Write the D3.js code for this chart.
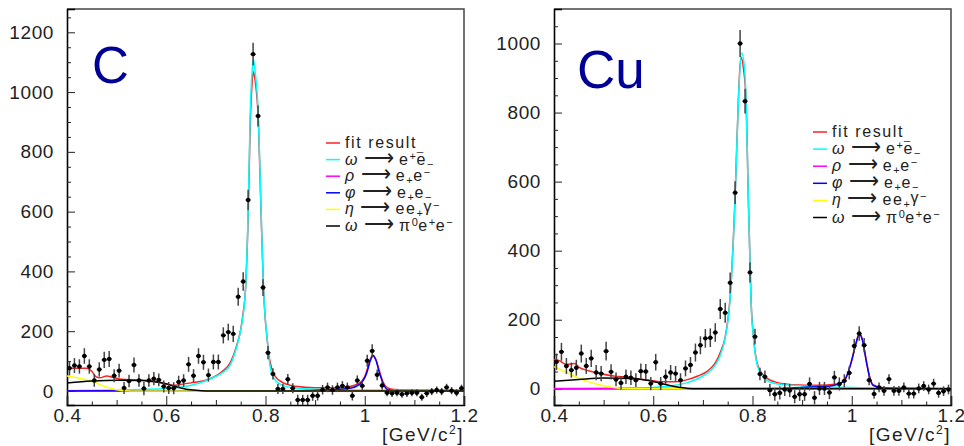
<!DOCTYPE html>
<html>
<head>
<meta charset="utf-8">
<script src="https://cdn.jsdelivr.net/npm/d3@7"></script>
<style>
  body { margin: 0; background: #fff; }
  text { font-family: "Liberation Sans", Arial, sans-serif; }
</style>
</head>
<body>
<svg id="chart" width="964" height="446"></svg>
<script>
// histogram binning: 80 bins of 10 MeV between 0.4 and 1.2 GeV/c^2
const binCenters = d3.range(80).map((i) => +(0.405 + i * 0.01).toFixed(3));

// carbon target, counts per bin and their errors
const countsC = [
  76, 85, 82, 117, 82, 35, 72, 104, 107, 51,
  68, 10, 33, 87, 35, 8, 35, 41, 37, 15,
  10, 9, 30, 35, 89, 51, 117, 96, 53, 97,
  97, 186, 197, 191, 315, 366, 639, 1127, 920, 346,
  128, 57, 7, 7, 39, 9, -30, -30, -30, -16,
  -16, 4, 12, 3, 12, 17, 12, -16, 35, 17,
  101, 134, 54, 18, -6, -8, -6, -11, -8, -6,
  -6, -21, -8, -2, 3, -2, 12, 1, -6, 9,
];
const errorsC = [
  24, 25, 24, 26, 24, 21, 24, 27, 27, 22,
  23, 20, 21, 25, 21, 22, 21, 22, 21, 20,
  20, 20, 21, 21, 25, 22, 26, 25, 22, 25,
  25, 27, 28, 27, 30, 31, 34, 38, 35, 28,
  22, 19, 17, 17, 18, 17, 17, 17, 17, 17,
  16, 16, 16, 16, 16, 16, 16, 16, 17, 16,
  20, 22, 18, 14, 12, 12, 12, 12, 12, 12,
  12, 12, 12, 12, 12, 12, 12, 12, 12, 12,
];

// copper target
const countsCu = [
  78, 107, 66, 54, 61, 102, 66, 88, 47, 44,
  109, 49, 27, 17, 35, 32, 25, 51, 50, 15,
  77, 15, 35, 47, 44, 25, 59, 69, 105, 126,
  146, 148, 163, 231, 220, 307, 568, 1000, 833, 337,
  151, 43, 35, -4, -16, -12, -2, -5, -23, -16,
  -16, 14, -26, 1, 1, -11, 33, 14, 23, 46,
  124, 160, 126, 25, -15, 4, -6, 28, -6, -6,
  4, -14, -14, 1, 8, -2, 15, -12, -7, -2,
];
const errorsCu = [
  24, 26, 23, 22, 23, 26, 23, 25, 22, 22,
  27, 22, 20, 19, 21, 21, 20, 22, 22, 19,
  24, 19, 21, 22, 22, 20, 23, 23, 26, 26,
  27, 27, 27, 29, 29, 30, 33, 39, 36, 29,
  23, 18, 18, 18, 19, 19, 19, 19, 19, 19,
  19, 19, 19, 19, 19, 19, 19, 19, 19, 19,
  20, 21, 21, 15, 14, 14, 14, 14, 14, 14,
  14, 14, 14, 14, 14, 14, 14, 14, 14, 14,
];

// fit components, [mass, counts]
const fitC = [[0.400,76],[0.440,76],[0.450,66],[0.458,48],[0.466,44],[0.480,50],[0.494,45],[0.510,39],[0.540,37],[0.573,33],[0.590,28],[0.601,22],[0.615,19],[0.630,22],[0.650,27],[0.680,36],[0.700,50],[0.715,68],[0.729,95],[0.742,152],[0.750,205],[0.754,250],[0.760,350],[0.7656,620],[0.769,880],[0.773,1030],[0.7757,1068],[0.779,1040],[0.7857,900],[0.7905,630],[0.7958,350],[0.7992,248],[0.803,180],[0.806,130],[0.812,78],[0.820,48],[0.835,28],[0.860,16],[0.900,11],[0.940,11],[0.970,15],[0.990,27],[1.000,48],[1.006,78],[1.011,105],[1.0163,120],[1.022,107],[1.0297,66],[1.037,30],[1.0445,12],[1.060,5],[1.100,3],[1.200,2]];
const omegaC = [[0.400,1],[0.500,3],[0.550,5],[0.600,8],[0.648,18],[0.680,34],[0.695,45],[0.714,62],[0.729,87],[0.742,148],[0.749,195],[0.7535,237],[0.760,349],[0.7656,639],[0.769,917],[0.773,1070],[0.7757,1109],[0.779,1070],[0.7857,917],[0.7905,639],[0.7958,349],[0.7992,250],[0.803,180],[0.806,128],[0.809,85],[0.816,45],[0.825,28],[0.836,18],[0.860,10],[0.900,6],[1.000,3],[1.200,1]];
const rhoC = [[0.400,1],[0.600,1],[0.800,1],[1.000,0.5],[1.200,0]];
const phiC = [[0.400,0],[0.850,1],[0.930,4],[0.970,9],[0.990,22],[1.004,60],[1.011,100],[1.0163,118],[1.022,105],[1.0297,60],[1.037,25],[1.0445,6],[1.060,1],[1.200,0]];
const etaC = [[0.400,50],[0.426,42],[0.453,31],[0.473,17],[0.490,8],[0.503,3],[0.515,0.5],[0.530,0],[1.200,0]];
const dalitzC = [[0.400,27],[0.450,33],[0.500,36],[0.550,35],[0.580,30],[0.600,24],[0.620,14],[0.640,6],[0.660,2],[0.680,0],[1.200,0]];

const fitCu = [[0.400,85],[0.410,82],[0.425,71],[0.435,72],[0.442,73],[0.450,63],[0.470,52],[0.490,45],[0.520,37],[0.550,33],[0.580,27],[0.600,23],[0.620,20],[0.645,20],[0.665,25],[0.690,37],[0.710,52],[0.725,75],[0.735,105],[0.745,150],[0.7547,262],[0.7648,550],[0.7716,840],[0.7765,961],[0.782,925],[0.787,836],[0.7917,546],[0.7955,340],[0.797,262],[0.8018,155],[0.8105,68],[0.822,40],[0.845,20],[0.880,12],[0.930,10],[0.970,14],[0.985,22],[0.9993,80],[1.008,130],[1.0154,160],[1.022,140],[1.0295,80],[1.036,36],[1.0428,12],[1.060,4],[1.100,2],[1.200,1]];
const omegaCu = [[0.400,0],[0.550,2],[0.600,4],[0.633,8],[0.667,17],[0.700,37],[0.720,59],[0.734,93],[0.744,141],[0.7507,199],[0.7547,257],[0.7648,546],[0.7716,836],[0.778,973],[0.7835,935],[0.787,836],[0.7917,546],[0.7955,337],[0.797,257],[0.8018,151],[0.8105,64],[0.822,35],[0.8453,15],[0.900,8],[1.000,4],[1.200,1]];
const rhoCu = [[0.400,1],[0.600,1],[0.800,1],[1.200,0]];
const phiCu = [[0.400,0],[0.850,1],[0.900,4],[0.960,9],[0.9824,20],[0.9993,78],[1.008,128],[1.0154,158],[1.022,138],[1.0295,78],[1.036,33],[1.0428,10],[1.060,3],[1.100,1],[1.200,0]];
const etaCu = [[0.400,64],[0.427,46],[0.460,25],[0.493,11],[0.520,4],[0.540,0.5],[0.560,0],[1.200,0]];
const dalitzCu = [[0.400,22],[0.450,27],[0.500,31],[0.553,30],[0.587,25],[0.620,14],[0.654,4],[0.670,1],[0.690,0],[1.200,0]];

// legend entries: [text, position] pieces
const legendEntries = [
  { key: "fit", color: "#ff2020", parts: [["fit result"], ["_", "sub"]] },
  { key: "omega", color: "#00ffff", parts: [["ω", "it"], ["⟶", "arrow"], ["e"], ["+", "sup"], ["e"], ["−", "sub"]] },
  { key: "rho", color: "#ff00ff", parts: [["ρ", "it"], ["⟶", "arrow"], ["e"], ["+", "sub"], ["e"], ["−", "sup"]] },
  { key: "phi", color: "#0000ff", parts: [["φ", "it"], ["⟶", "arrow"], ["e"], ["+", "sub"], ["e"], ["−", "sub"]] },
  { key: "eta", color: "#ffff00", parts: [["η", "it"], ["⟶", "arrow"], ["e"], ["e"], ["+", "sub"], ["γ", "up"], ["−", "sup"]] },
  { key: "dalitz", color: "#000000", parts: [["ω", "it"], ["⟶", "arrow"], ["π"], ["0", "sup"], ["e"], ["+", "sup"], ["e"], ["−", "sup"]] },
];

const panels = [
  {
    label: "C", x0: 67, x1: 464, yDomain: [-47, 1278],
    counts: countsC, errors: errorsC,
    curves: { fit: fitC, omega: omegaC, rho: rhoC, phi: phiC, eta: etaC, dalitz: dalitzC },
    drawOrder: ["fit", "omega", "rho", "phi", "eta", "dalitz"],
    labelX: 92, labelY: 83, labelSize: 51,
    legendX: 326, legendY: 143, legendStep: 16.6,
  },
  {
    label: "Cu", x0: 554, x1: 951, yDomain: [-47, 1100],
    counts: countsCu, errors: errorsCu,
    curves: { fit: fitCu, omega: omegaCu, rho: rhoCu, phi: phiCu, eta: etaCu, dalitz: dalitzCu },
    drawOrder: ["fit", "omega", "phi", "rho", "eta", "dalitz"],
    labelX: 577, labelY: 88, labelSize: 53,
    legendX: 813, legendY: 132, legendStep: 17.1,
  },
];

const plotTop = 9, plotBottom = 405;
const svg = d3.select("#chart");
svg.append("rect").attr("width", 964).attr("height", 446).attr("fill", "#fff");

function richText(sel, parts) {
  let shift = 0;
  parts.forEach(([txt, pos]) => {
    const target = pos === "sup" ? -5 : pos === "sub" ? 3 : pos === "up" ? -2 : 0;
    const ts = sel.append("tspan")
      .attr("dy", target - shift)
      .text(txt);
    if (pos === "sup" || pos === "sub") ts.attr("font-size", 11).attr("letter-spacing", 0.5);
    if (pos === "it") ts.attr("font-style", "italic");
    if (pos === "arrow") ts.attr("font-size", 21).attr("dx", 5).attr("letter-spacing", 5);
    shift = target;
  });
}

panels.forEach((p, pi) => {
  const x = d3.scaleLinear().domain([0.4, 1.2]).range([p.x0, p.x1]);
  const y = d3.scaleLinear().domain(p.yDomain).range([plotBottom, plotTop]);
  const g = svg.append("g");

  const clipId = "clip" + pi;
  g.append("clipPath").attr("id", clipId)
    .append("rect")
    .attr("x", p.x0).attr("y", plotTop)
    .attr("width", p.x1 - p.x0).attr("height", plotBottom - plotTop);

  // frame: top/right grey, axes black
  g.append("path")
    .attr("d", `M${p.x0},${plotTop}H${p.x1}V${plotBottom}`)
    .attr("fill", "none").attr("stroke", "#444").attr("stroke-width", 1.5);

  // y axis, ticks pointing inwards
  const yMajor = d3.range(0, p.yDomain[1], 200);
  const yMinor = d3.range(0, p.yDomain[1], 50).filter((v) => v % 200 !== 0);
  const yAx = g.append("g").attr("transform", `translate(${p.x0},0)`)
    .call(d3.axisLeft(y).tickValues(yMajor).tickSize(-8).tickPadding(13).tickFormat(d3.format("d")));
  g.append("g").attr("transform", `translate(${p.x0},0)`)
    .call(d3.axisLeft(y).tickValues(yMinor).tickSize(-4).tickFormat(""))
    .call((s) => s.select(".domain").remove());

  // x axis
  const xMajor = [0.4, 0.6, 0.8, 1.0, 1.2];
  const xMid = [0.5, 0.7, 0.9, 1.1];
  const xMinor = d3.range(0.45, 1.2, 0.1);
  const xAx = g.append("g").attr("transform", `translate(0,${plotBottom})`)
    .call(d3.axisBottom(x).tickValues(xMajor).tickSize(-9).tickPadding(4).tickFormat(d3.format("")));
  g.append("g").attr("transform", `translate(0,${plotBottom})`)
    .call(d3.axisBottom(x).tickValues(xMid).tickSize(-5).tickFormat(""))
    .call((s) => s.select(".domain").remove());
  g.append("g").attr("transform", `translate(0,${plotBottom})`)
    .call(d3.axisBottom(x).tickValues(xMinor).tickSize(-3.5).tickFormat(""))
    .call((s) => s.select(".domain").remove());

  [yAx, xAx].forEach((ax) => {
    ax.select(".domain").attr("stroke", "#000").attr("stroke-width", 1.6);
    ax.selectAll("text")
      .attr("font-size", 19).attr("fill", "#222")
      .attr("letter-spacing", 0.6);
  });
  g.selectAll(".tick line").attr("stroke", "#222");

  // axis title
  const title = g.append("text")
    .attr("x", p.x1).attr("y", 441)
    .attr("text-anchor", "end")
    .attr("font-size", 19).attr("fill", "#222")
    .attr("letter-spacing", 1.5);
  title.append("tspan").text("[GeV/c");
  title.append("tspan").attr("dy", -7).attr("font-size", 12).text("2");
  title.append("tspan").attr("dy", 7).text("]");

  // fit curves
  const line = d3.line()
    .x((d) => x(d[0]))
    .y((d) => y(d[1]))
    .curve(d3.curveMonotoneX);
  const curveG = g.append("g").attr("clip-path", `url(#${clipId})`);
  p.drawOrder.forEach((key) => {
    const entry = legendEntries.find((e) => e.key === key);
    curveG.append("path")
      .datum(p.curves[key])
      .attr("d", line)
      .attr("fill", "none")
      .attr("stroke", entry.color)
      .attr("stroke-width", 1.5);
  });

  // data points with errors
  const pts = p.counts.map((v, i) => ({ m: binCenters[i], v, e: p.errors[i] }));
  const half = (x(0.41) - x(0.4)) / 2;
  const ptG = g.append("g").attr("clip-path", `url(#${clipId})`);
  ptG.selectAll("line.ey").data(pts).join("line")
    .attr("class", "ey")
    .attr("x1", (d) => x(d.m)).attr("x2", (d) => x(d.m))
    .attr("y1", (d) => y(d.v - d.e)).attr("y2", (d) => y(d.v + d.e))
    .attr("stroke", "#444").attr("stroke-width", 1.5);
  ptG.selectAll("line.ex").data(pts).join("line")
    .attr("class", "ex")
    .attr("x1", (d) => x(d.m) - half).attr("x2", (d) => x(d.m) + half)
    .attr("y1", (d) => y(d.v)).attr("y2", (d) => y(d.v))
    .attr("stroke", "#111").attr("stroke-width", 1.5);
  ptG.selectAll("circle").data(pts).join("circle")
    .attr("cx", (d) => x(d.m)).attr("cy", (d) => y(d.v))
    .attr("r", 2.2).attr("fill", "#000");

  // target label
  g.append("text")
    .attr("x", p.labelX).attr("y", p.labelY)
    .attr("font-size", p.labelSize)
    .attr("fill", "#000096")
    .text(p.label);

  // legend
  const leg = g.append("g");
  legendEntries.forEach((e, i) => {
    const cy = p.legendY + i * p.legendStep;
    leg.append("line")
      .attr("x1", p.legendX).attr("x2", p.legendX + 14)
      .attr("y1", cy).attr("y2", cy)
      .attr("stroke", e.color).attr("stroke-width", 1.5);
    const t = leg.append("text")
      .attr("x", p.legendX + 19).attr("y", cy + 5)
      .attr("font-size", 16).attr("fill", "#222")
      .attr("letter-spacing", 1.6);
    richText(t, e.parts);
  });
});
</script>
</body>
</html>
